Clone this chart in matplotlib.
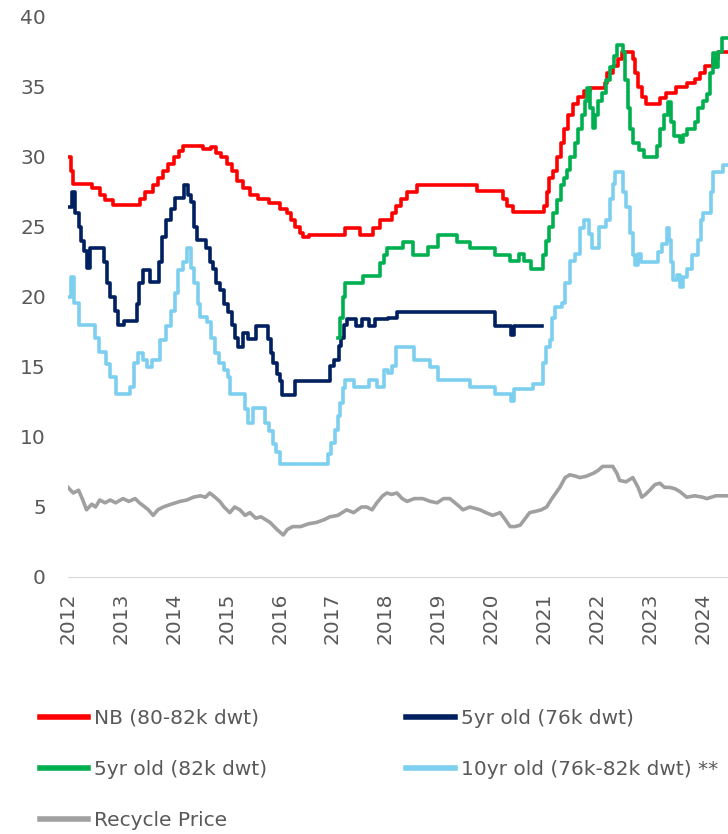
import matplotlib
matplotlib.use("Agg")
import matplotlib.pyplot as plt

plt.rcParams['font.family'] = ['DejaVu Sans']

# ---- data (USD mn) ----
nb_x = [2012.0, 2012.05, 2012.1, 2012.45, 2012.6, 2012.7, 2012.85, 2013.36, 2013.45, 2013.6, 2013.7,
        2013.8, 2013.9, 2014.0, 2014.1, 2014.17, 2014.55, 2014.7, 2014.8, 2014.9, 2015.0, 2015.1,
        2015.2, 2015.3, 2015.45, 2015.6, 2015.8, 2016.0, 2016.14, 2016.22, 2016.3, 2016.38, 2016.45,
        2016.55, 2017.24, 2017.52, 2017.77, 2017.9, 2018.12, 2018.2, 2018.3, 2018.41, 2018.6, 2019.73,
        2020.22, 2020.3, 2020.41, 2021.0, 2021.05, 2021.1, 2021.18, 2021.25, 2021.32, 2021.38, 2021.45,
        2021.55, 2021.65, 2021.75, 2021.87, 2022.15, 2022.2, 2022.3, 2022.4, 2022.47, 2022.68, 2022.72,
        2022.78, 2022.85, 2022.92, 2023.2, 2023.3, 2023.5, 2023.7, 2023.85, 2023.95, 2024.05, 2024.2,
        2024.3, 2024.6]
nb_y = [30.0, 29.0, 28.1, 27.8, 27.3, 26.9, 26.6, 27.0, 27.5, 28.0, 28.5,
        29.0, 29.5, 30.0, 30.4, 30.8, 30.6, 30.7, 30.3, 30.0, 29.5, 29.0,
        28.3, 27.8, 27.3, 27.0, 26.7, 26.3, 26.0, 25.5, 25.0, 24.6, 24.3,
        24.4, 24.9, 24.4, 24.9, 25.5, 26.0, 26.5, 27.0, 27.5, 28.0, 27.6,
        27.0, 26.5, 26.1, 26.5, 27.5, 28.5, 29.0, 30.0, 31.0, 32.0, 33.0,
        33.8, 34.3, 34.7, 34.9, 35.3, 36.0, 36.5, 37.0, 37.5, 37.0, 36.0,
        35.0, 34.3, 33.8, 34.2, 34.6, 35.0, 35.3, 35.6, 36.0, 36.5, 37.0,
        37.5, 37.5]

yr5_76_x = [2012.0, 2012.07, 2012.14, 2012.2, 2012.25, 2012.3, 2012.35, 2012.42, 2012.68, 2012.74, 2012.8,
            2012.88, 2012.95, 2013.05, 2013.3, 2013.35, 2013.42, 2013.55, 2013.72, 2013.78, 2013.85, 2013.95,
            2014.02, 2014.2, 2014.27, 2014.32, 2014.38, 2014.44, 2014.6, 2014.68, 2014.74, 2014.8, 2014.87,
            2014.95, 2015.02, 2015.1, 2015.16, 2015.22, 2015.3, 2015.4, 2015.55, 2015.78, 2015.83, 2015.88,
            2015.95, 2016.0, 2016.05, 2016.3, 2016.95, 2017.03, 2017.12, 2017.17, 2017.22, 2017.27, 2017.45,
            2017.55, 2017.7, 2017.8, 2018.05, 2018.22, 2020.07, 2020.38, 2020.43, 2020.96]
yr5_76_y = [26.4, 27.5, 26.0, 25.0, 24.0, 23.3, 22.1, 23.5, 22.5, 21.0, 20.0,
            19.0, 18.0, 18.3, 19.5, 21.0, 21.9, 21.1, 22.5, 24.3, 25.5, 26.3,
            27.1, 28.0, 27.3, 26.8, 25.0, 24.1, 23.5, 22.5, 22.0, 21.0, 20.5,
            19.5, 18.9, 18.0, 17.1, 16.4, 17.4, 17.0, 17.9, 17.0, 16.0, 15.3,
            14.5, 14.0, 13.0, 14.0, 15.1, 15.5, 16.5, 17.1, 18.0, 18.4, 17.9,
            18.4, 17.9, 18.4, 18.5, 18.9, 17.9, 17.3, 17.9, 17.9]

yr5_82_x = [2017.1, 2017.15, 2017.2, 2017.24, 2017.58, 2017.9, 2017.97, 2018.03, 2018.33, 2018.52, 2018.8,
            2018.99, 2019.35, 2019.6, 2020.07, 2020.36, 2020.52, 2020.62, 2020.75, 2020.98, 2021.03, 2021.1,
            2021.18, 2021.25, 2021.32, 2021.38, 2021.43, 2021.5, 2021.58, 2021.65, 2021.72, 2021.78, 2021.82,
            2021.87, 2021.92, 2021.97, 2022.02, 2022.1, 2022.18, 2022.25, 2022.32, 2022.38, 2022.5, 2022.54,
            2022.58, 2022.63, 2022.68, 2022.8, 2022.9, 2023.13, 2023.2, 2023.27, 2023.34, 2023.4, 2023.45,
            2023.57, 2023.62, 2023.7, 2023.85, 2023.92, 2024.0, 2024.08, 2024.14, 2024.19, 2024.24, 2024.3,
            2024.36, 2024.6]
yr5_82_y = [17.1, 18.5, 20.0, 21.0, 21.5, 22.4, 23.0, 23.5, 23.9, 23.0, 23.6,
            24.4, 23.9, 23.5, 23.0, 22.6, 23.1, 22.6, 22.0, 23.0, 24.0, 25.0,
            26.0, 26.9, 28.0, 28.5, 29.1, 30.0, 31.0, 32.0, 33.0, 34.0, 34.9,
            33.5, 32.1, 33.0, 34.0, 34.6, 35.5, 36.4, 37.2, 38.0, 37.5, 35.5,
            33.5, 32.0, 31.0, 30.5, 30.0, 30.8, 32.0, 33.0, 33.9, 32.5, 31.5,
            31.1, 31.6, 32.0, 32.5, 33.5, 34.0, 34.5, 36.0, 37.4, 36.4, 37.5,
            38.5, 38.5]

yr10_x = [2012.0, 2012.06, 2012.12, 2012.2, 2012.51, 2012.58, 2012.72, 2012.8, 2012.9, 2013.17, 2013.25,
          2013.32, 2013.42, 2013.5, 2013.58, 2013.74, 2013.85, 2013.95, 2014.02, 2014.08, 2014.18, 2014.25,
          2014.32, 2014.38, 2014.45, 2014.5, 2014.63, 2014.7, 2014.78, 2014.85, 2014.95, 2015.03, 2015.06,
          2015.35, 2015.4, 2015.5, 2015.72, 2015.8, 2015.87, 2015.93, 2016.0, 2016.92, 2016.98, 2017.05,
          2017.1, 2017.14, 2017.2, 2017.24, 2017.4, 2017.7, 2017.85, 2017.98, 2018.05, 2018.12, 2018.2,
          2018.55, 2018.85, 2019.0, 2019.6, 2020.07, 2020.38, 2020.43, 2020.79, 2020.98, 2021.04, 2021.11,
          2021.16, 2021.2, 2021.34, 2021.39, 2021.49, 2021.58, 2021.68, 2021.75, 2021.85, 2021.9, 2022.05,
          2022.18, 2022.25, 2022.3, 2022.34, 2022.5, 2022.56, 2022.62, 2022.68, 2022.72, 2022.78, 2022.83,
          2023.15, 2023.23, 2023.32, 2023.37, 2023.41, 2023.44, 2023.52, 2023.57, 2023.62, 2023.7, 2023.8,
          2023.91, 2023.96, 2024.0, 2024.15, 2024.19, 2024.38, 2024.6]
yr10_y = [20.0, 21.4, 19.6, 18.0, 17.1, 16.1, 15.2, 14.3, 13.1, 13.6, 15.3,
          16.0, 15.5, 15.0, 15.5, 16.9, 17.9, 19.0, 20.3, 21.9, 22.5, 23.5,
          22.1, 21.0, 19.5, 18.6, 18.2, 17.1, 16.0, 15.3, 14.8, 14.3, 13.1,
          12.0, 11.0, 12.1, 11.0, 10.4, 9.5, 8.9, 8.1, 8.8, 9.6, 10.5,
          11.5, 12.4, 13.5, 14.1, 13.6, 14.1, 13.6, 14.8, 14.6, 15.1, 16.4,
          15.5, 15.0, 14.1, 13.6, 13.1, 12.6, 13.4, 13.8, 15.3, 16.4, 16.9,
          18.5, 19.3, 19.6, 21.0, 22.6, 23.1, 24.9, 25.5, 24.5, 23.5, 25.0,
          25.5, 27.0, 28.1, 28.9, 27.5, 26.4, 24.6, 23.0, 22.3, 23.1, 22.5,
          23.2, 23.8, 24.9, 24.1, 22.5, 21.2, 21.6, 20.7, 21.4, 22.0, 23.0,
          24.1, 25.5, 26.0, 27.5, 28.9, 29.4, 29.4]

recycle_x = [2012.0, 2012.1, 2012.2, 2012.28, 2012.35, 2012.45, 2012.52, 2012.6, 2012.7, 2012.8, 2012.9,
             2013.04, 2013.15, 2013.27, 2013.35, 2013.42, 2013.52, 2013.61, 2013.7, 2013.8, 2013.95, 2014.12,
             2014.25, 2014.37, 2014.5, 2014.6, 2014.68, 2014.78, 2014.87, 2014.95, 2015.06, 2015.15, 2015.25,
             2015.35, 2015.44, 2015.55, 2015.65, 2015.82, 2015.95, 2016.07, 2016.15, 2016.25, 2016.4, 2016.55,
             2016.7, 2016.85, 2016.95, 2017.1, 2017.27, 2017.4, 2017.55, 2017.65, 2017.75, 2017.84, 2017.95,
             2018.03, 2018.12, 2018.22, 2018.32, 2018.41, 2018.55, 2018.71, 2018.85, 2018.98, 2019.1, 2019.22,
             2019.35, 2019.47, 2019.6, 2019.79, 2019.9, 2020.03, 2020.17, 2020.25, 2020.36, 2020.45, 2020.55,
             2020.65, 2020.73, 2020.85, 2020.95, 2021.05, 2021.15, 2021.3, 2021.4, 2021.49, 2021.6, 2021.68,
             2021.8, 2021.93, 2022.02, 2022.11, 2022.2, 2022.3, 2022.38, 2022.43, 2022.55, 2022.68, 2022.78,
             2022.85, 2022.92, 2023.0, 2023.1, 2023.19, 2023.28, 2023.38, 2023.48, 2023.57, 2023.7, 2023.85,
             2024.0, 2024.08, 2024.25, 2024.46, 2024.6]
recycle_y = [6.4, 6.0, 6.2, 5.5, 4.8, 5.2, 5.0, 5.5, 5.3, 5.5, 5.3,
             5.6, 5.4, 5.6, 5.3, 5.1, 4.8, 4.4, 4.8, 5.0, 5.2, 5.4,
             5.5, 5.7, 5.8, 5.7, 6.0, 5.7, 5.4, 5.0, 4.6, 5.0, 4.8,
             4.4, 4.6, 4.2, 4.3, 3.9, 3.4, 3.0, 3.4, 3.6, 3.6, 3.8,
             3.9, 4.1, 4.3, 4.4, 4.8, 4.6, 5.0, 5.0, 4.8, 5.3, 5.8,
             6.0, 5.9, 6.0, 5.6, 5.4, 5.6, 5.6, 5.4, 5.3, 5.6, 5.6,
             5.2, 4.8, 5.0, 4.8, 4.6, 4.4, 4.6, 4.2, 3.6, 3.6, 3.7,
             4.2, 4.6, 4.7, 4.8, 5.0, 5.6, 6.4, 7.1, 7.3, 7.2, 7.1,
             7.2, 7.4, 7.6, 7.9, 7.9, 7.9, 7.4, 6.9, 6.8, 7.1, 6.4,
             5.7, 5.9, 6.2, 6.6, 6.7, 6.4, 6.4, 6.3, 6.1, 5.7, 5.8,
             5.7, 5.6, 5.8, 5.8, 5.8]

years = list(range(2012, 2025))
labels = ['NB (80-82k dwt)', '5yr old (76k dwt)', '5yr old (82k dwt)',
          '10yr old (76k-82k dwt) **', 'Recycle Price']

# ---- figure ----
fig = plt.figure(figsize=(7.28, 8.34), dpi=100)
ax = fig.add_axes([68 / 728, 1 - 577 / 834, 1 - 68 / 728, (577 - 17) / 834])

lw = 2.6
l_nb, = ax.plot(nb_x, nb_y, color='#ff0000', lw=lw, drawstyle='steps-post', label=labels[0])
l_76, = ax.plot(yr5_76_x, yr5_76_y, color='#002060', lw=lw, drawstyle='steps-post', label=labels[1])
l_82, = ax.plot(yr5_82_x, yr5_82_y, color='#00b050', lw=lw, drawstyle='steps-post', label=labels[2])
l_10, = ax.plot(yr10_x, yr10_y, color='#7dcff0', lw=lw, drawstyle='steps-post', label=labels[3])
l_rc, = ax.plot(recycle_x, recycle_y, color='#a0a0a0', lw=lw, label=labels[4])

ax.set_xlim(2012, 2024.48)
ax.set_ylim(0, 40)
ax.set_yticks(range(0, 41, 5))
ax.set_xticks(years)
ax.set_xticklabels([str(y) for y in years], rotation=90)
ax.tick_params(axis='both', length=0, labelsize=14.5, labelcolor='#595959')
ax.tick_params(axis='y', pad=16)
ax.tick_params(axis='x', pad=11)
for s in ['top', 'right', 'left']:
    ax.spines[s].set_visible(False)
ax.spines['bottom'].set_color('#d9d9d9')

leg = fig.legend([l_nb, l_82, l_rc, l_76, l_10],
                 [labels[0], labels[2], labels[4], labels[1], labels[3]],
                 ncol=2, loc='upper left', bbox_to_anchor=(40 / 728, 1 - 709 / 834),
                 frameon=False, fontsize=14.5, handlelength=2.4, handletextpad=0.3,
                 labelspacing=1.6, columnspacing=6.9, borderpad=0, borderaxespad=0)
for t in leg.get_texts():
    t.set_color('#595959')
for h in leg.legend_handles:
    h.set_linewidth(4)

fig.savefig('out.png', dpi=100)
